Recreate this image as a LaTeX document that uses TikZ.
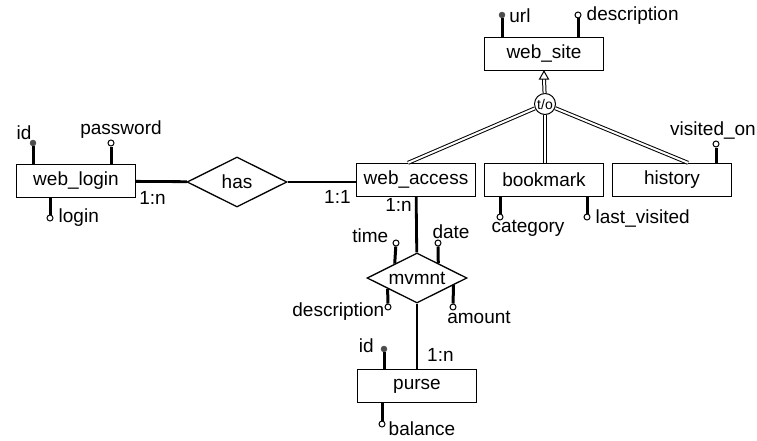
\documentclass[tikz,border=0pt]{standalone}
\usepackage{fontspec}
\setmainfont{Liberation Sans}
\usetikzlibrary{positioning,shapes.geometric,calc}

\begin{document}
\begin{tikzpicture}[x=1pt, y=-1pt,
    font=\fontsize{19}{21}\selectfont,
    entity/.style={draw, line width=1.3pt, minimum width=119pt, minimum height=33pt, inner sep=0pt},
    rel/.style={draw, diamond, line width=1.3pt, aspect=2, minimum width=100pt, minimum height=50pt, inner sep=0pt},
    keydot/.style={circle, fill=black!70, draw=black!70, minimum size=6pt, inner sep=0pt},
    attrdot/.style={circle, fill=white, draw, line width=1pt, minimum size=6pt, inner sep=0pt},
    stub/.style={line width=3pt},
    link/.style={line width=2.8pt},
    isa/.style={double, double distance=2pt, line width=1pt},
    lbl/.style={inner sep=1pt}]
    \useasboundingbox (0,0) rectangle (757,441);

    % entidades
    \node[entity] (site)  at (544,54)  {web\_site};
    \node[entity] (login) at (76,181)  {web\_login};
    \node[entity] (acc)   at (416,180) {web\_access};
    \node[entity] (book)  at (544,180) {bookmark};
    \node[entity] (hist)  at (672,180) {history};
    \node[entity] (purse) at (417,386) {purse};

    % relaciones
    \node[rel] (has) at (237,182) {has};
    \node[rel] (mv)  at (417,278) {mvmnt};

    % especializacion t/o
    \node[circle, draw, line width=1pt, fill=white, minimum size=21pt, inner sep=0pt,
          font=\fontsize{14}{14}\selectfont] (iso) at (545,104) {t/o};
    \draw[isa] (iso) -- ([xshift=-8pt]acc.north);
    \draw[isa] (iso) -- (iso |- book.north);
    \draw[isa] (iso) -- ([xshift=16pt]hist.north);
    \draw[isa] (iso) -- ([yshift=-8pt]site.south);
    \draw[line width=1pt, fill=white] (site.south) -- ++(-4.5,8) -- ++(9,0) -- cycle;

    % conexiones
    \draw[link] (login) -- (has);
    \draw[link] (has) -- (has -| acc.west);
    \draw[link] (acc) -- (mv);
    \draw[link] (mv) -- (purse);
    \node[lbl, anchor=west] at ([xshift=2pt]login.south east) {1:n};
    \node[lbl, anchor=east] at ([xshift=-4pt]acc.south west) {1:1};
    \node[lbl, anchor=north east] at ([xshift=-3pt]acc.south) {1:n};
    \node[lbl, anchor=south west] at ([xshift=9pt, yshift=6pt]purse.north) {1:n};

    % atributos web_site
    \node[keydot] (urlK) at (502,15) {};
    \node[lbl, right=3pt of urlK, yshift=-1pt] {url};
    \draw[stub] (urlK) -- (urlK |- site.north);
    \node[attrdot] (sdescK) at (578,15) {};
    \node[lbl, right=4pt of sdescK, yshift=-1pt] {description};
    \draw[stub] (sdescK) -- (sdescK |- site.north);

    % atributos web_login
    \node[keydot] (idK) at (33,143) {};
    \node[lbl, above left=0pt and -2pt of idK] {id};
    \draw[stub] (idK) -- (idK |- login.north);
    \node[attrdot] (pwK) at (111,143) {};
    \node[lbl, above=0pt of pwK, xshift=10pt] {password};
    \draw[stub] (pwK) -- (pwK |- login.north);
    \node[attrdot] (loginK) at (50,218) {};
    \node[lbl, right=4pt of loginK] {login};
    \draw[stub] (loginK) -- (loginK |- login.south);

    % atributos bookmark / history
    \node[attrdot] (catK) at (500,217) {};
    \node[lbl, below=-1pt of catK, xshift=28pt] {category};
    \draw[stub] (catK) -- (catK |- book.south);
    \node[attrdot] (lastK) at (587,217) {};
    \node[lbl, right=4pt of lastK, yshift=-2pt] {last\_visited};
    \draw[stub] (lastK) -- (lastK |- book.south);
    \node[attrdot] (visK) at (716,144) {};
    \node[lbl, above=0pt of visK, xshift=-3pt] {visited\_on};
    \draw[stub] (visK) -- (visK |- hist.north);

    % atributos mvmnt
    \node[attrdot] (timeK) at (396,243) {};
    \node[lbl, left=3pt of timeK, yshift=7pt] {time};
    \draw[stub] (timeK) -- ($(mv.west)!0.56!(mv.north)$);
    \node[attrdot] (dateK) at (438,243) {};
    \node[lbl, above=0pt of dateK, xshift=13pt] {date};
    \draw[stub] (dateK) -- ($(mv.north)!0.42!(mv.east)$);
    \node[attrdot] (mdescK) at (388,307) {};
    \node[lbl, left=-1pt of mdescK, yshift=-5pt] {description};
    \draw[stub] (mdescK) -- ($(mv.west)!0.42!(mv.south)$);
    \node[attrdot] (amtK) at (453,307) {};
    \node[lbl, below=0pt of amtK, xshift=26pt] {amount};
    \draw[stub] (amtK) -- ($(mv.south)!0.72!(mv.east)$);

    % atributos purse
    \node[keydot] (pidK) at (384,349) {};
    \node[lbl, left=6pt of pidK, yshift=3pt] {id};
    \draw[stub] (pidK) -- (pidK |- purse.north);
    \node[attrdot] (balK) at (382,424) {};
    \node[lbl, right=2pt of balK, yshift=-5pt] {balance};
    \draw[stub] (balK) -- (balK |- purse.south);
\end{tikzpicture}
\end{document}
